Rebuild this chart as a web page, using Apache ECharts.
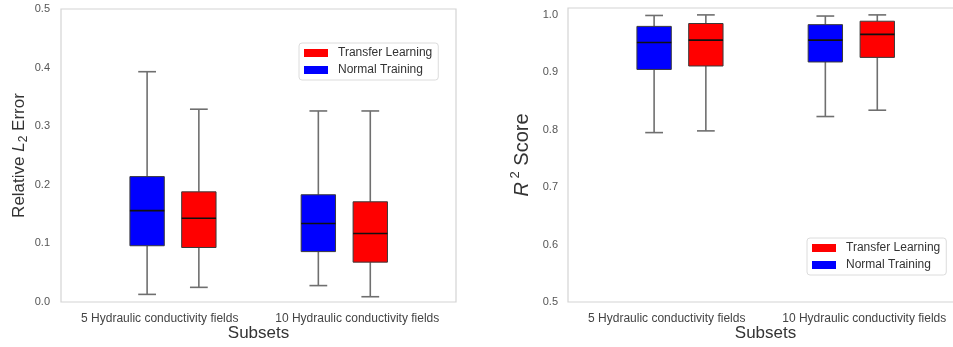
<!DOCTYPE html>
<html>
<head>
<meta charset="utf-8">
<script src="https://cdn.jsdelivr.net/npm/echarts@6/dist/echarts.min.js"></script>
<style>
  html, body { margin: 0; padding: 0; background: #fff; }
  #chart { width: 953px; height: 347px; }
</style>
</head>
<body>
<div id="chart"></div>
<script>
// Subsets on the x axis
const categories = ['5 Hydraulic conductivity fields', '10 Hydraulic conductivity fields'];

// Box statistics per subset: [min, Q1, median, Q3, max]
const l2Normal   = [[0.013, 0.096, 0.156, 0.214, 0.393], [0.028, 0.086, 0.134, 0.183, 0.326]];
const l2Transfer = [[0.025, 0.093, 0.143, 0.188, 0.329], [0.009, 0.068, 0.117, 0.171, 0.326]];
const r2Normal   = [[0.795, 0.905, 0.952, 0.980, 0.999], [0.823, 0.918, 0.956, 0.983, 0.998]];
const r2Transfer = [[0.798, 0.911, 0.956, 0.985, 1.000], [0.834, 0.926, 0.966, 0.989, 1.000]];

const seriesNames = ['Transfer Learning', 'Normal Training'];

// ---- layout / style ----
const FONT = 'Liberation Sans, Arial, sans-serif';
const COLORS = { 'Transfer Learning': '#ff0000', 'Normal Training': '#0000ff' };
// horizontal offset of each box from its category centre, as a fraction of the band
const OFFSETS = { 'Normal Training': [-0.064, -0.197], 'Transfer Learning': [0.198, 0.066] };
const BOX_HALF = 0.087;   // half box width (fraction of band)
const CAP_HALF = 0.045;   // half whisker-cap width

function renderBox(params, api) {
  const g = api.value(0);
  const band = api.size([1, 0])[0];
  const cx = api.coord([g, 0])[0] + OFFSETS[params.seriesName][g] * band;
  const y = (i) => api.coord([g, api.value(i)])[1];
  const yMin = y(1), yQ1 = y(2), yMed = y(3), yQ3 = y(4), yMax = y(5);
  const hw = BOX_HALF * band, cw = CAP_HALF * band;
  const whisk = { stroke: '#6f6f6f', lineWidth: 1.6 };
  return {
    type: 'group',
    children: [
      { type: 'line', shape: { x1: cx, y1: yQ1, x2: cx, y2: yMin }, style: whisk },
      { type: 'line', shape: { x1: cx, y1: yQ3, x2: cx, y2: yMax }, style: whisk },
      { type: 'line', shape: { x1: cx - cw, y1: yMin, x2: cx + cw, y2: yMin }, style: whisk },
      { type: 'line', shape: { x1: cx - cw, y1: yMax, x2: cx + cw, y2: yMax }, style: whisk },
      { type: 'rect', shape: { x: cx - hw, y: yQ3, width: 2 * hw, height: yQ1 - yQ3 },
        style: { fill: COLORS[params.seriesName], stroke: '#3a3a3a', lineWidth: 1 } },
      { type: 'line', shape: { x1: cx - hw, y1: yMed, x2: cx + hw, y2: yMed },
        style: { stroke: '#111', lineWidth: 1.6 } }
    ]
  };
}

function boxSeries(name, stats, idx) {
  return {
    name: name,
    type: 'custom',
    xAxisIndex: idx, yAxisIndex: idx,
    itemStyle: { color: COLORS[name] },
    renderItem: renderBox,
    encode: { x: 0, y: [1, 2, 3, 4, 5] },
    data: stats.map((s, g) => [g].concat(s)),
    silent: true
  };
}

function xAxis(idx) {
  return {
    type: 'category', gridIndex: idx, data: categories, boundaryGap: true,
    axisLine: { show: false }, axisTick: { show: false }, splitLine: { show: false },
    axisLabel: { fontFamily: FONT, fontSize: 12, color: '#444', margin: 11, interval: 0, hideOverlap: false },
    name: 'Subsets', nameLocation: 'middle', nameGap: 23, nameMoveOverlap: false,
    nameTextStyle: { fontFamily: FONT, fontSize: 17, color: '#333' }
  };
}

function legend(idx, left, top) {
  return {
    data: seriesNames, left: left, top: top, orient: 'vertical',
    icon: 'rect', itemWidth: 24, itemHeight: 8, itemGap: 3,
    padding: [3, 6, 3, 5],
    backgroundColor: '#fff', borderColor: '#dcdcdc', borderWidth: 1, borderRadius: 3,
    textStyle: { fontFamily: FONT, fontSize: 12, color: '#333', lineHeight: 14, padding: [0, 0, 0, 5] },
    selectedMode: false
  };
}

const tenths = (v) => Math.abs(v * 10 - Math.round(v * 10)) < 1e-6 ? v.toFixed(1) : '';

const option = {
  animation: false,
  backgroundColor: '#fff',
  grid: [
    { left: 61, top: 9, width: 395, height: 293, show: true, borderColor: '#d4d4d4', borderWidth: 1.2,
      outerBoundsMode: 'none', containLabel: false },
    { left: 568, top: 8, width: 395, height: 294, show: true, borderColor: '#d4d4d4', borderWidth: 1.2,
      outerBoundsMode: 'none', containLabel: false }
  ],
  legend: [legend(0, 299, 43), legend(1, 807, 238)],
  xAxis: [xAxis(0), xAxis(1)],
  yAxis: [
    {
      type: 'value', gridIndex: 0, min: 0, max: 0.5, interval: 0.1,
      axisLine: { show: false }, axisTick: { show: false }, splitLine: { show: false },
      axisLabel: { fontFamily: FONT, fontSize: 11, color: '#555', margin: 11, formatter: tenths },
      name: '{a|Relative }{i|L}{s|2}{a| Error}',
      nameLocation: 'middle', nameRotate: 90, nameGap: 31,
      nameTextStyle: {
        fontFamily: FONT, fontSize: 17, color: '#333',
        rich: {
          a: { fontFamily: FONT, fontSize: 17, color: '#333', lineHeight: 22 },
          i: { fontFamily: FONT, fontSize: 17, fontStyle: 'italic', color: '#333', lineHeight: 22 },
          s: { fontFamily: FONT, fontSize: 12, color: '#333', verticalAlign: 'bottom', lineHeight: 14 }
        }
      }
    },
    {
      type: 'value', gridIndex: 1, min: 0.5, max: 1.012, interval: 0.1,
      axisLine: { show: false }, axisTick: { show: false }, splitLine: { show: false },
      axisLabel: { fontFamily: FONT, fontSize: 11, color: '#555', margin: 10, formatter: tenths },
      name: '{i|R}{p| 2}{a| Score}',
      nameLocation: 'middle', nameRotate: 90, nameGap: 33,
      nameTextStyle: {
        fontFamily: FONT, fontSize: 20, color: '#333',
        rich: {
          a: { fontFamily: FONT, fontSize: 20, color: '#333', lineHeight: 26 },
          i: { fontFamily: FONT, fontSize: 20, fontStyle: 'italic', color: '#333', lineHeight: 26 },
          p: { fontFamily: FONT, fontSize: 13, color: '#333', verticalAlign: 'top', lineHeight: 14 }
        }
      }
    }
  ],
  series: [
    boxSeries('Normal Training', l2Normal, 0),
    boxSeries('Transfer Learning', l2Transfer, 0),
    boxSeries('Normal Training', r2Normal, 1),
    boxSeries('Transfer Learning', r2Transfer, 1)
  ]
};

const chart = echarts.init(document.getElementById('chart'), null, { renderer: 'canvas' });
chart.setOption(option);
</script>
</body>
</html>
